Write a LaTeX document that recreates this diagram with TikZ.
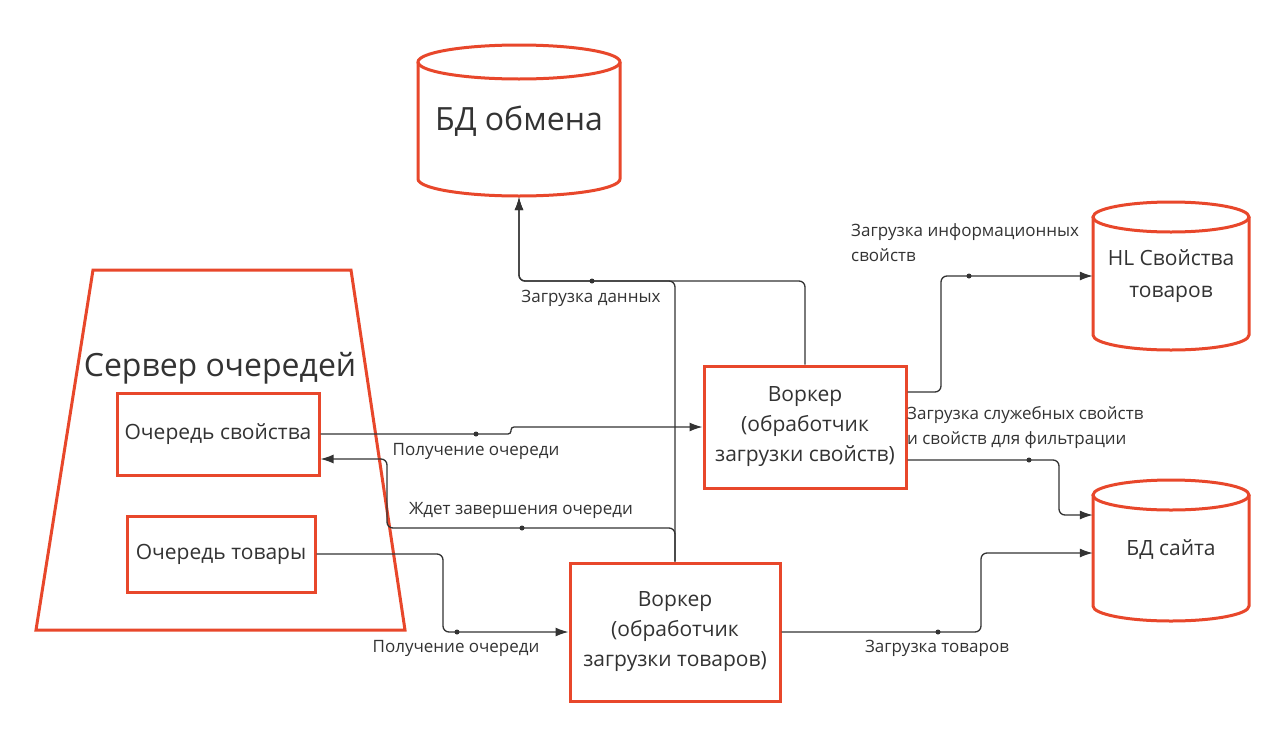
\documentclass[tikz,border=0pt]{standalone}
\usepackage{fontspec}
\setmainfont{Open Sans}
\usetikzlibrary{arrows.meta, calc}
\definecolor{ored}{HTML}{E8472B}
\definecolor{ink}{HTML}{333333}
\begin{document}
\begin{tikzpicture}[x=1pt,y=-1pt,
 box/.style={draw=ored, line width=3pt, inner sep=0pt, text=ink, align=center},
 shapeline/.style={draw=ored, line width=3pt},
 conn/.style={draw=ink, line width=1.3pt, rounded corners=6pt},
 arr/.style={conn, -{Latex[length=13pt,width=9pt]}},
 lbl/.style={text=ink, font=\fontsize{17}{25}\selectfont, inner sep=0pt, align=left},
 dotm/.style={fill=ink},
 cyltext/.style={inner sep=0pt, text=ink, align=center},
 wtext/.style={font=\fontsize{21}{30}\selectfont}]
\useasboundingbox (0,0) rectangle (1280,750);
\fill[white] (0,0) rectangle (1280,750);

% cylinders
\draw[shapeline] (418,62) -- (418,179) arc[start angle=180, end angle=0, x radius=101, y radius=17] -- (620,62);
\draw[shapeline] (519,62) ellipse [x radius=101, y radius=17];
\node[cyltext, minimum width=202pt, minimum height=152pt, font=\fontsize{32}{38}\selectfont] (bdx) at (519,121) {БД обмена};

\draw[shapeline] (1093,217) -- (1093,335) arc[start angle=180, end angle=0, x radius=78, y radius=15] -- (1249,217);
\draw[shapeline] (1171,217) ellipse [x radius=78, y radius=15];
\node[cyltext, minimum width=156pt, minimum height=148pt, font=\fontsize{21}{32}\selectfont] (hl) at (1171,276) {HL Свойства\\товаров};

\draw[shapeline] (1093,495) -- (1093,606) arc[start angle=180, end angle=0, x radius=78, y radius=15] -- (1249,495);
\draw[shapeline] (1171,495) ellipse [x radius=78, y radius=15];
\node[cyltext, minimum width=156pt, minimum height=141pt, font=\fontsize{21}{28}\selectfont] (bds) at (1171,550) {БД сайта};

% queue server
\draw[shapeline] (93,270) -- (351,270) -- (405,630) -- (36,630) -- cycle;
\node[cyltext, font=\fontsize{32}{38}\selectfont] (srv) at (220,368) {Сервер очередей};
\node[box, minimum width=202pt, minimum height=82pt, font=\fontsize{21}{28}\selectfont] (qp) at (218,434) {Очередь свойства};
\node[box, minimum width=188pt, minimum height=76pt, font=\fontsize{21}{28}\selectfont] (qg) at (221,554) {Очередь товары};

% workers
\node[box, minimum width=202pt, minimum height=122pt, wtext] (wp) at (805,427) {Воркер\\(обработчик\\загрузки свойств)};
\node[box, minimum width=210pt, minimum height=138pt, wtext] (wg) at (675,632) {Воркер\\(обработчик\\загрузки товаров)};

% connectors
\draw[arr, rounded corners=3pt] (qp.east) -- (511,434) -- (511,427) -- (wp.west);
\fill[dotm] (476,434) circle (2.5pt);
\node[lbl] (l1) at (476,451) {Получение очереди};

\draw[arr] (wg.north) -- (675,528) -- (387,528) -- (387,459) -- (qp.east |- 0,459);
\fill[dotm] (522,528) circle (2.5pt);
\node[lbl] (l2) at (521,510) {Ждет завершения очереди};

\draw[arr] (wp.north) -- (805,281) -- (519,281) -- (bdx.south);
\draw[arr] (wg.north) -- (675,281) -- (519,281) -- (bdx.south);
\fill[dotm] (592,281) circle (2.5pt);
\node[lbl] (l3) at (591,298) {Загрузка данных};

\draw[arr] (wp.east |- 0,392) -- (941,392) -- (941,276) -- (hl.west);
\fill[dotm] (969,276) circle (2.5pt);
\node[lbl, anchor=west] (l4) at (851,243) {Загрузка информационных\\свойств};

\draw[arr] (wp.east |- 0,460) -- (1059,460) -- (1059,515) -- (bds.west |- 0,515);
\fill[dotm] (1029,460) circle (2.5pt);
\node[lbl, anchor=west] (l5) at (907,428) {Загрузка служебных свойств\\и свойств для фильтрации};

\draw[arr] (qg.east) -- (443,554) -- (443,632) -- (wg.west);
\fill[dotm] (457,632) circle (2.5pt);
\node[lbl] (l6) at (456,648) {Получение очереди};

\draw[arr] (wg.east) -- (981,632) -- (981,553) -- (bds.west |- 0,553);
\fill[dotm] (938,632) circle (2.5pt);
\node[lbl] (l7) at (937,648) {Загрузка товаров};
\end{tikzpicture}
\end{document}
